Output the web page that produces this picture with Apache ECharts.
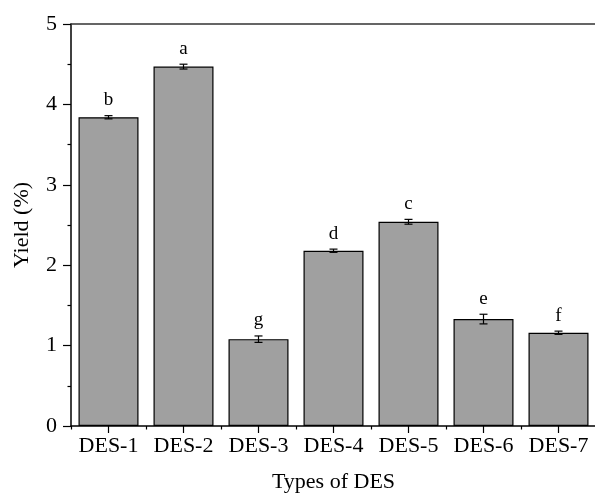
<!DOCTYPE html>
<html>
<head>
<meta charset="utf-8">
<script src="https://cdn.jsdelivr.net/npm/echarts@6/dist/echarts.min.js"></script>
<style>
  html, body { margin: 0; padding: 0; background: #fff; }
  #main { width: 595px; height: 498px; }
</style>
</head>
<body>
<div id="main"></div>
<script>
// 数据
var categories = ['DES-1', 'DES-2', 'DES-3', 'DES-4', 'DES-5', 'DES-6', 'DES-7'];
var yieldVals = [3.84, 4.47, 1.08, 2.18, 2.54, 1.33, 1.16];
var errVals = [0.02, 0.03, 0.04, 0.02, 0.03, 0.06, 0.02];
var sigLetters = ['b', 'a', 'g', 'd', 'c', 'e', 'f'];
var yTicks = [0, 1, 2, 3, 4, 5];

var FONT = '"Liberation Serif", "Times New Roman", serif';

var errData = yieldVals.map(function (v, i) { return [i, v - errVals[i], v + errVals[i], sigLetters[i]]; });

var chart = echarts.init(document.getElementById('main'));
chart.setOption({
  animation: false,
  grid: { left: 71, right: -1, top: 24, bottom: 72, containLabel: false, outerBoundsMode: 'none' },
  xAxis: [{
    type: 'category',
    data: categories,
    position: 'bottom',
    name: 'Types of DES',
    nameLocation: 'middle',
    nameGap: 45,
    nameTextStyle: { fontFamily: FONT, fontSize: 22, color: '#000' },
    axisLine: { lineStyle: { color: '#000', width: 1.5 } },
    axisTick: { show: true, alignWithLabel: true, interval: 0, length: 7, lineStyle: { color: '#000', width: 1.2 } },
    axisLabel: { interval: 0, fontFamily: FONT, fontSize: 22, color: '#000', margin: 9 }
  }, {
    type: 'category',
    data: categories,
    position: 'bottom',
    axisLine: { show: false },
    axisTick: { show: true, interval: 0, length: 3.5, lineStyle: { color: '#000', width: 1.2 } },
    axisLabel: { show: false }
  }, {
    type: 'category',
    data: categories,
    position: 'top',
    axisLine: { lineStyle: { color: '#333', width: 1.5 } },
    axisTick: { show: false },
    axisLabel: { show: false }
  }],
  yAxis: {
    type: 'value',
    min: yTicks[0],
    max: yTicks[yTicks.length - 1],
    interval: 1,
    name: 'Yield (%)',
    nameLocation: 'middle',
    nameGap: 38,
    nameTextStyle: { fontFamily: FONT, fontSize: 22, color: '#000' },
    axisLine: { show: true, lineStyle: { color: '#000', width: 1.5 } },
    axisTick: { show: true, length: 8, lineStyle: { color: '#000', width: 1.2 } },
    minorTick: { show: true, splitNumber: 2, length: 3.5, lineStyle: { color: '#000', width: 1.2 } },
    axisLabel: { fontFamily: FONT, fontSize: 22, color: '#000', margin: 14 },
    splitLine: { show: false }
  },
  series: [{
    type: 'bar',
    data: yieldVals,
    barWidth: '80%',
    itemStyle: { color: '#a0a0a0', borderColor: '#000', borderWidth: 1.2 }
  }, {
    type: 'custom',
    data: errData,
    z: 10,
    renderItem: function (params, api) {
      var x = api.value(0);
      var lo = api.coord([x, api.value(1)]);
      var hi = api.coord([x, api.value(2)]);
      var cap = 4;
      var style = { stroke: '#000', lineWidth: 1.2 };
      return {
        type: 'group',
        children: [
          { type: 'line', shape: { x1: lo[0], y1: lo[1], x2: hi[0], y2: hi[1] }, style: style },
          { type: 'line', shape: { x1: lo[0] - cap, y1: lo[1], x2: lo[0] + cap, y2: lo[1] }, style: style },
          { type: 'line', shape: { x1: hi[0] - cap, y1: hi[1], x2: hi[0] + cap, y2: hi[1] }, style: style },
          { type: 'text', x: hi[0], y: hi[1] - 6, style: {
            text: api.value(3), fill: '#000', font: '19px ' + FONT, textAlign: 'center', textVerticalAlign: 'bottom'
          } }
        ]
      };
    }
  }]
});
</script>
</body>
</html>
